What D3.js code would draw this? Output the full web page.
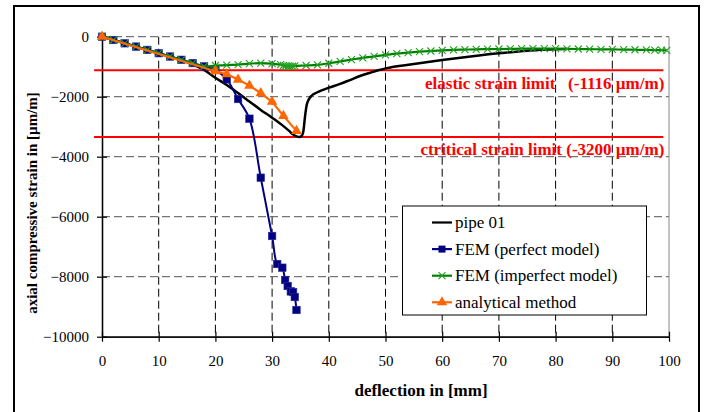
<!DOCTYPE html>
<html><head><meta charset="utf-8">
<script src="https://cdn.jsdelivr.net/npm/d3@7/dist/d3.min.js"></script>
<style>body{margin:0;background:#fff}svg{display:block}</style>
</head><body><svg id="c" width="717" height="412"></svg>
<script>
// ---- data ----
const xTicks = [0,10,20,30,40,50,60,70,80,90,100];
const yTicks = [0,-2000,-4000,-6000,-8000,-10000];
const seriesNames = ["pipe 01","FEM (perfect model)","FEM (imperfect model)","analytical method"];

const pipeX = [0,4,8,12,14,16,18,20,22,24,26,28,30,32,33,33.7,34.3,34.8,35.2,35.5,35.8,36.1,36.5,37,37.9,39,40.2,42,43.7,45.5,47.3,48.7,50,55,60,65,70,75,80,82];
const pipeY = [0,-220,-445,-670,-790,-920,-1110,-1370,-1610,-1880,-2160,-2440,-2700,-2980,-3140,-3260,-3320,-3345,-3310,-3170,-2670,-2280,-2080,-1960,-1860,-1770,-1690,-1570,-1445,-1310,-1200,-1120,-1055,-910,-777,-660,-555,-470,-420,-410];

const femPX = [0,2,4,6,8,10,12,14,16,18,20,22,24,26,28,30,30.9,31.8,32.3,32.75,33.3,33.7,34.0,34.3];
const femPY = [0,-110,-220,-330,-440,-550,-660,-770,-880,-990,-1110,-1420,-2077,-2733,-4700,-6643,-7577,-7700,-8110,-8310,-8490,-8510,-8677,-9110];

const femIX = [0,2,4,6,8,10,12,14,16,18,20,22,24,26,28,30,31.5,32,32.4,32.8,33.2,33.6,34,36,38,40,42,44,46,48,50,52,54,56,58,60,62,64,66,68,70,72,74,76,78,80,82,84,86,88,90,92,94,96,97.5,98.7,99.6];
const femIY = [0,-110,-220,-330,-440,-550,-660,-770,-880,-990,-960,-950,-930,-900,-880,-900,-930,-960,-975,-985,-990,-985,-975,-960,-940,-885,-825,-765,-705,-655,-605,-565,-530,-500,-477,-455,-440,-430,-420,-415,-410,-405,-400,-400,-400,-400,-405,-410,-415,-420,-425,-430,-435,-440,-445,-450,-455];

const anaX = [0,20,22,24,26,28,30,32,34.3];
const anaY = [0,-1150,-1250,-1430,-1630,-1880,-2170,-2640,-3140];

const limitValues = [-1116,-3340];
const limitLabels = ["elastic strain limit   (-1116 \u00b5m/m)","ctritical strain limit (-3200 \u00b5m/m)"];
const limitXRange = [-1.4,99];

const xTitle = "deflection in [mm]";
const yTitle = "axial compressive strain in [\u00b5m/m]";

// ---- drawing ----
const FONT = 'Liberation Serif';
const svg = d3.select("#c");
const x = d3.scaleLinear().domain([0,100]).range([102,669]);
const y = d3.scaleLinear().domain([-10000,0]).range([336.7,36.7]);

svg.append("rect").attr("x",14).attr("y",6).attr("width",685).attr("height",412)
  .attr("fill","#fff").attr("stroke","#000").attr("stroke-width",2);

const g = svg.append("g");
g.selectAll(".vg").data(xTicks.filter(d=>d>0&&d<100)).join("line")
  .attr("x1",d=>x(d)).attr("x2",d=>x(d)).attr("y1",y(0)).attr("y2",y(-10000))
  .attr("stroke","#000").attr("stroke-width",1).attr("stroke-dasharray","8,4");
g.selectAll(".hg").data(yTicks.filter(d=>d>-10000)).join("line")
  .attr("x1",x(0)).attr("x2",x(100)).attr("y1",d=>y(d)).attr("y2",d=>y(d))
  .attr("stroke","#555").attr("stroke-width",1).attr("stroke-dasharray","8,4");
g.append("line").attr("x1",x(100)).attr("x2",x(100)).attr("y1",y(0)).attr("y2",y(-10000))
  .attr("stroke","#888").attr("stroke-width",1);

const fmt = d3.format("d");
svg.append("g").attr("transform",`translate(0,${y(-10000)})`)
  .call(d3.axisBottom(x).tickValues(xTicks).tickSize(5).tickPadding(14).tickSizeOuter(0).tickFormat(fmt));
svg.append("g").attr("transform",`translate(0,${y(-10000)})`)
  .call(d3.axisTop(x).tickValues(xTicks).tickSize(5).tickSizeOuter(0).tickFormat(""));
svg.append("g").attr("transform",`translate(${x(0)},0)`)
  .call(d3.axisLeft(y).tickValues(yTicks).tickSize(5).tickPadding(8).tickSizeOuter(0).tickFormat(fmt));
svg.append("g").attr("transform",`translate(${x(0)},0)`)
  .call(d3.axisRight(y).tickValues(yTicks).tickSize(5).tickSizeOuter(0).tickFormat(""));
svg.selectAll(".domain").attr("stroke","#000").attr("stroke-width",1.3);
svg.selectAll(".tick line").attr("stroke","#000").attr("stroke-width",1.2);
svg.selectAll("g").attr("font-family",FONT);
svg.selectAll(".tick text").attr("font-size",15).attr("fill","#000").attr("font-family",FONT).style("font-family",FONT);

svg.append("text").attr("x",421).attr("y",396).attr("text-anchor","middle").style("font-family",FONT)
  .attr("font-size",17).attr("font-weight","bold").text(xTitle);
svg.append("text").attr("transform","translate(37,203) rotate(-90)").attr("text-anchor","middle").style("font-family",FONT)
  .attr("font-size",15).attr("font-weight","bold").text(yTitle);

limitValues.forEach((v,i)=>{
  svg.append("line").attr("x1",x(limitXRange[0])).attr("x2",x(limitXRange[1]))
    .attr("y1",y(v)).attr("y2",y(v)).attr("stroke","#ff0000").attr("stroke-width",2);
  svg.append("text").attr("x",x(limitXRange[1])+1).attr("y",y(v)+18.5).attr("text-anchor","end")
    .attr("xml:space","preserve").style("white-space","pre").style("font-family",FONT)
    .attr("font-size",17).attr("font-weight","bold").attr("fill","#ff0000").text(limitLabels[i]);
});

const zip = (a,b)=>a.map((d,i)=>[d,b[i]]);
const smooth = d3.line().x(d=>x(d[0])).y(d=>y(d[1])).curve(d3.curveMonotoneX);
const cat = d3.line().x(d=>x(d[0])).y(d=>y(d[1])).curve(d3.curveCatmullRom);
const straight = d3.line().x(d=>x(d[0])).y(d=>y(d[1]));

svg.append("path").attr("d",smooth(zip(pipeX,pipeY))).attr("fill","none")
  .attr("stroke","#000").attr("stroke-width",2.5);

const fp = zip(femPX,femPY);
svg.append("path").attr("d",cat(fp)).attr("fill","none")
  .attr("stroke","#000080").attr("stroke-width",2);
svg.selectAll(".sq").data(fp).join("rect").attr("x",d=>x(d[0])-3.75).attr("y",d=>y(d[1])-3.75)
  .attr("width",7.5).attr("height",7.5).attr("fill","#000080").attr("stroke","#2a2aa0").attr("stroke-width",0.6);

const fi = zip(femIX,femIY);
svg.append("path").attr("d",cat(fi)).attr("fill","none")
  .attr("stroke","#008000").attr("stroke-width",2.2);
svg.selectAll(".xm").data(fi).join("path")
  .attr("d",d=>{const cx=x(d[0]),cy=y(d[1]),r=3.5;return `M${cx-r},${cy-r}L${cx+r},${cy+r}M${cx-r},${cy+r}L${cx+r},${cy-r}`;})
  .attr("stroke","#22a022").attr("stroke-width",1.1).attr("fill","none");

const an = zip(anaX,anaY);
svg.append("path").attr("d",straight(an)).attr("fill","none")
  .attr("stroke","#ff6600").attr("stroke-width",2.2);
const tri = d3.symbol().type(d3.symbolTriangle).size(48);
svg.selectAll(".tr").data(an).join("path").attr("d",tri)
  .attr("transform",d=>`translate(${x(d[0])},${y(d[1])})`).attr("fill","#ff6600");

const lg = svg.append("g");
lg.append("rect").attr("x",402.5).attr("y",206).attr("width",244).attr("height",109)
  .attr("fill","#fff").attr("stroke","#000").attr("stroke-width",1);
const lc = ["#000","#000080","#008000","#ff6600"];
seriesNames.forEach((n,i)=>{
  const cy = 222.5 + i*26.6;
  lg.append("line").attr("x1",432).attr("x2",452).attr("y1",cy).attr("y2",cy)
    .attr("stroke",lc[i]).attr("stroke-width",2.2);
  if(i===1) lg.append("rect").attr("x",438.5).attr("y",cy-3.5).attr("width",7).attr("height",7).attr("fill","#000080");
  if(i===2) lg.append("path").attr("d",`M${442-3.5},${cy-3.5}L${442+3.5},${cy+3.5}M${442-3.5},${cy+3.5}L${442+3.5},${cy-3.5}`)
    .attr("stroke","#22a022").attr("stroke-width",1.1);
  if(i===3) lg.append("path").attr("d",tri).attr("transform",`translate(442,${cy})`).attr("fill","#ff6600");
  lg.append("text").attr("x",455).attr("y",cy+5.5).attr("font-size",17).attr("font-family",FONT).style("font-family",FONT).text(n);
});
</script></body></html>
